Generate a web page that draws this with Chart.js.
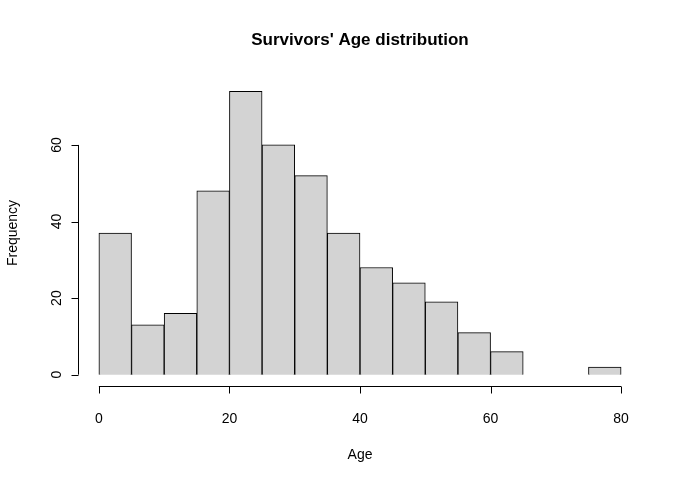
<!DOCTYPE html>
<html>
<head>
<script src="https://cdn.jsdelivr.net/npm/chart.js@4"></script>
<style>html,body{margin:0;background:#fff}#wrap{width:681px;height:485px}</style>
</head>
<body>
<div id="wrap"><canvas id="c"></canvas></div>
<script>
const binMids = [2.5,7.5,12.5,17.5,22.5,27.5,32.5,37.5,42.5,47.5,52.5,57.5,62.5,67.5,72.5,77.5];
const counts = [37,13,16,48,74,60,52,37,28,24,19,11,6,0,0,2];
const xTicks = [0,20,40,60,80];
const yTicks = [0,20,40,60];

const rAxes = {
  id: 'rAxes',
  afterDraw(chart) {
    const {ctx, chartArea: a, scales: {x, y}} = chart;
    ctx.save();
    ctx.strokeStyle = '#000'; ctx.fillStyle = '#000'; ctx.lineWidth = 1;
    ctx.font = '14px "Liberation Sans", Arial, sans-serif';
    // x axis
    const yb = Math.round(a.bottom) + 0.5;
    ctx.beginPath();
    ctx.moveTo(x.getPixelForValue(xTicks[0]), yb);
    ctx.lineTo(x.getPixelForValue(xTicks[xTicks.length-1]), yb);
    xTicks.forEach(t => {
      const px = Math.round(x.getPixelForValue(t)) + 0.5;
      ctx.moveTo(px, yb); ctx.lineTo(px, yb + 7);
    });
    ctx.stroke();
    ctx.textAlign = 'center'; ctx.textBaseline = 'middle';
    xTicks.forEach(t => ctx.fillText(String(t), x.getPixelForValue(t), yb + 33));
    // y axis
    const xl = Math.round(a.left) + 0.5;
    ctx.beginPath();
    ctx.moveTo(xl, y.getPixelForValue(yTicks[0]));
    ctx.lineTo(xl, y.getPixelForValue(yTicks[yTicks.length-1]));
    yTicks.forEach(t => {
      const py = Math.round(y.getPixelForValue(t)) + 0.5;
      ctx.moveTo(xl, py); ctx.lineTo(xl - 7, py);
    });
    ctx.stroke();
    yTicks.forEach(t => {
      ctx.save();
      ctx.translate(xl - 21, y.getPixelForValue(t));
      ctx.rotate(-Math.PI/2);
      ctx.fillText(String(t), 0, 0);
      ctx.restore();
    });
    // labels
    ctx.fillText('Age', (a.left + a.right)/2, 455);
    ctx.save();
    ctx.translate(13, (a.top + a.bottom)/2);
    ctx.rotate(-Math.PI/2);
    ctx.fillText('Frequency', 0, 0);
    ctx.restore();
    ctx.font = 'bold 17px "Liberation Sans", Arial, sans-serif';
    ctx.fillText("Survivors' Age distribution", (a.left + a.right)/2, 40);
    ctx.restore();
  }
};

new Chart(document.getElementById('c'), {
  type: 'bar',
  data: {
    datasets: [{
      data: binMids.map((m, i) => ({x: m, y: counts[i]})),
      backgroundColor: '#d3d3d3',
      borderColor: '#000',
      borderWidth: 1,
      barPercentage: 1,
      categoryPercentage: 1
    }]
  },
  options: {
    responsive: true,
    maintainAspectRatio: false,
    animation: false,
    layout: {padding: {left: 78, right: 39, top: 80, bottom: 99}},
    plugins: {legend: {display: false}, tooltip: {enabled: false}},
    scales: {
      x: {type: 'linear', min: -3.2, max: 83.2, display: false, offset: false},
      y: {min: -2.96, max: 76.96, display: false}
    }
  },
  plugins: [rAxes]
});
</script>
</body>
</html>
